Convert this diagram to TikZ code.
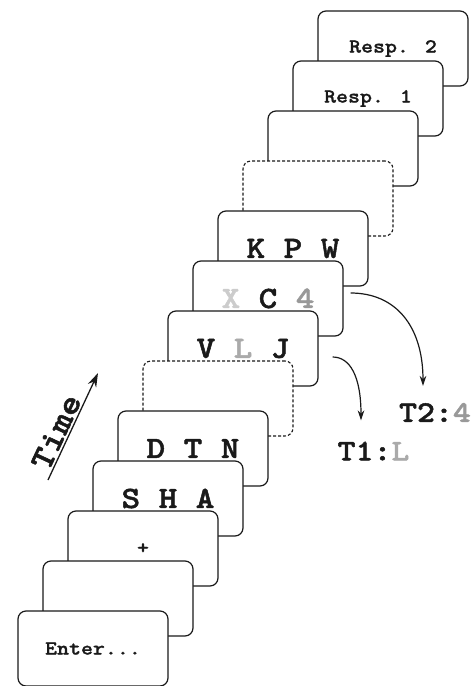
\documentclass[tikz,border=0pt]{standalone}
\usepackage{fontspec}
\newfontfamily\cmono[FakeStretch=1.14,FakeBold=1.6]{lmmonolt10-bold.otf}
\newfontfamily\cmonos[FakeStretch=1.14,FakeBold=1.0]{lmmonolt10-bold.otf}
\usetikzlibrary{arrows.meta}
\definecolor{ink}{HTML}{1A1A1A}
\definecolor{greyL}{HTML}{AAAAAA}
\definecolor{greyX}{HTML}{CCCCCC}
\definecolor{grey4}{HTML}{999999}
\begin{document}
\begin{tikzpicture}[x=1pt,y=-1pt,
  frame/.style={draw=ink, line width=1.2pt, fill=white, rounded corners=8pt,
    minimum width=150pt, minimum height=75pt, inner sep=0pt, text=ink,
    font=\cmono\fontsize{31}{31}\selectfont},
  dotframe/.style={frame, dash pattern=on 3pt off 2pt, line width=1.1pt},
  small/.style={font=\cmonos\fontsize{20}{20}\selectfont},
  lab/.style={text=ink, inner sep=0pt, font=\cmono\fontsize{30}{30}\selectfont},
  arr/.style={-{Stealth[length=10pt,width=6.5pt]}, line width=1.2pt, draw=ink},
  timearr/.style={-{Stealth[length=14pt,width=9pt]}, line width=1.3pt, draw=ink},
]
\useasboundingbox (0,0) rectangle (474,686);
% frames, back to front
\node[frame, small] (f13) at (393,48.5) {Resp. 2};
\node[frame, small] (f12) at (368,98.5) {Resp. 1};
\node[frame] (f11) at (343,148.5) {};
\node[dotframe] (f10) at (318,198.5) {};
\node[frame] (f9) at (293,248.5) {K P W};
\node[frame] (f8) at (268,298.5) {{\color{greyX}X} C {\color{grey4}4}};
\node[frame] (f7) at (243,348.5) {V {\color{greyL}L} J};
\node[dotframe] (f6) at (218,398.5) {};
\node[frame] (f5) at (193,448.5) {D T N};
\node[frame] (f4) at (168,498.5) {S H A};
\node[frame, small] (f3) at (143,548.5) {+};
\node[frame] (f2) at (118,598.5) {};
\node[frame, small] (f1) at (93,648.5) {Enter...};
% target labels
\node[lab] (t1lab) at (373.5,451) {T1:{\color{greyL}L}};
\node[lab] (t2lab) at (435,412.5) {T2:{\color{grey4}4}};
\coordinate (t1s) at ([shift={(14,8.5)}]f7.east);
\coordinate (t1e) at ([shift={(-12.5,-21)}]t1lab.north);
\coordinate (t2s) at ([shift={(7,-5.5)}]f8.east);
\coordinate (t2e) at ([shift={(-12,-17)}]t2lab.north);
\draw[arr] (t1s) .. controls +(17,0) and +(0,-45) .. (t1e);
\draw[arr] (t2s) .. controls +(45,0) and +(0,-60) .. (t2e);
% time arrow
\coordinate (ta) at (48,480);
\coordinate (tb) at (98,373);
\draw[timearr] (ta) -- (tb)
  node[pos=0.4, sloped, above, inner sep=2pt, text=ink,
       font=\cmono\fontsize{33}{33}\selectfont] (timelab) {Time};
\end{tikzpicture}
\end{document}
